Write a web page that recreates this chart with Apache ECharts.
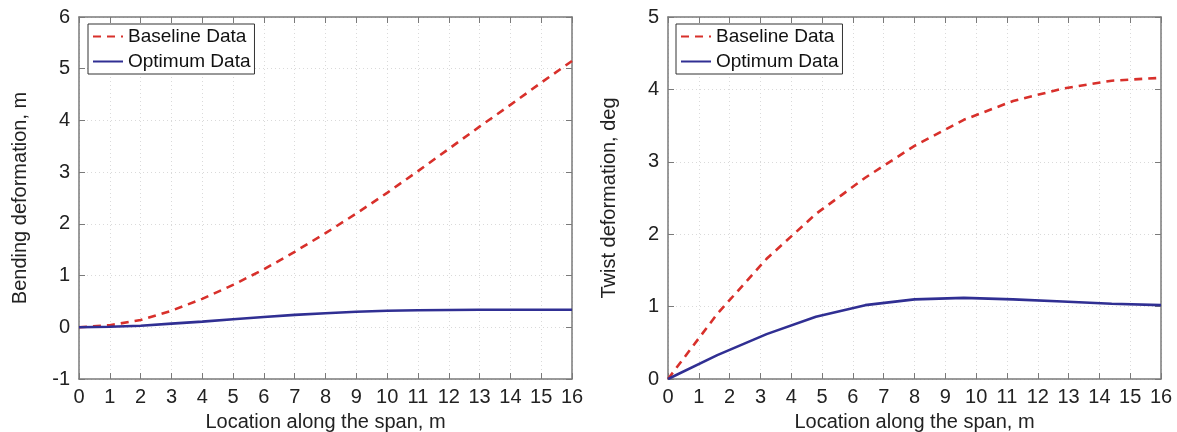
<!DOCTYPE html>
<html>
<head>
    <meta charset="utf-8"/>
    <title>Deformation along the span</title>
    <script src="https://cdn.jsdelivr.net/npm/echarts@6/dist/echarts.min.js"></script>
    <style>
        html, body { margin: 0; padding: 0; background: #fff; }
        #main { width: 1177px; height: 432px; }
    </style>
</head>
<body>
<div id="main"></div>
<script type="text/javascript">
    // bending deformation (left panel)
    var bendX = [0, 1, 2, 3, 4, 5, 6, 7, 8, 9, 10, 11, 12, 13, 14, 15, 16]
    var bendBaseline = [0, 0.04, 0.14, 0.32, 0.55, 0.82, 1.12, 1.46, 1.82, 2.2, 2.6, 3.02, 3.45, 3.88, 4.3, 4.73, 5.15]
    var bendOptimum = [0, 0.01, 0.03, 0.07, 0.11, 0.155, 0.2, 0.24, 0.27, 0.3, 0.32, 0.33, 0.335, 0.34, 0.34, 0.34, 0.34]
    // twist deformation (right panel)
    var twistX = [0, 1.6, 3.2, 4.8, 6.4, 8, 9.6, 11.2, 12.8, 14.4, 16]
    var twistBaseline = [0, 0.9, 1.66, 2.28, 2.78, 3.22, 3.58, 3.84, 4.01, 4.12, 4.16]
    var twistOptimum = [0, 0.33, 0.62, 0.86, 1.02, 1.1, 1.12, 1.1, 1.07, 1.04, 1.02]

    var seriesNames = ['Baseline Data', 'Optimum Data']
    var xName = 'Location along the span, m'
    var yNames = ['Bending deformation, m', 'Twist deformation, deg']

    function pairs(xs, ys) {
        return xs.map(function (x, i) { return [x, ys[i]] })
    }

    var font = 'Liberation Sans, Arial, sans-serif'
    var red = '#d8302b'
    var blue = '#302f93'
    var boxColor = '#7a7a7a'

    function xAxis(grid, pos) {
        var main = pos === 'bottom'
        return {
            type: 'value', gridIndex: grid, position: pos, min: 0, max: 16, interval: 1,
            name: main ? xName : '', nameLocation: 'middle', nameGap: 33,
            nameTextStyle: { fontFamily: font, fontSize: 20, color: '#222' },
            axisLine: { show: true, onZero: false, lineStyle: { color: boxColor, width: 1.5 } },
            axisTick: { show: true, inside: true, length: 6, lineStyle: { color: boxColor } },
            axisLabel: { show: main, fontFamily: font, fontSize: 20, color: '#222', margin: 8 },
            splitLine: { show: main, lineStyle: { color: '#dadada', type: [1, 3], width: 1 } }
        }
    }

    function yAxis(grid, pos, min, max, name) {
        var main = pos === 'left'
        return {
            type: 'value', gridIndex: grid, position: pos, min: min, max: max, interval: 1,
            name: main ? name : '', nameLocation: 'middle', nameGap: 49,
            nameTextStyle: { fontFamily: font, fontSize: 20, color: '#222' },
            axisLine: { show: true, onZero: false, lineStyle: { color: boxColor, width: 1.5 } },
            axisTick: { show: true, inside: true, length: 6, lineStyle: { color: boxColor } },
            axisLabel: { show: main, fontFamily: font, fontSize: 20, color: '#222', margin: 9 },
            splitLine: { show: main, lineStyle: { color: '#dadada', type: [1, 3], width: 1 } }
        }
    }

    function legend(left) {
        return {
            left: left, top: 24, orient: 'vertical', itemGap: 6, itemWidth: 30, itemHeight: 16,
            padding: [3, 4, 3, 4],
            borderColor: '#333', borderWidth: 1, backgroundColor: '#fff',
            itemStyle: { opacity: 0 },
            textStyle: { fontFamily: font, fontSize: 19, color: '#111' },
            data: seriesNames.map(function (n) { return { name: n } }),
            selectedMode: false
        }
    }

    function line(name, data, xi, yi, dashed) {
        return {
            name: name, type: 'line', xAxisIndex: xi, yAxisIndex: yi, data: data,
            symbol: 'none', smooth: false, z: dashed ? 3 : 4,
            lineStyle: { color: dashed ? red : blue, width: 2.6, type: dashed ? [8, 6] : 'solid' },
            itemStyle: { color: dashed ? red : blue }
        }
    }

    var myChart = echarts.init(document.getElementById('main'), null, { renderer: 'canvas' })
    myChart.setOption({
        backgroundColor: '#fff',
        animation: false,
        grid: [
            { left: 79, top: 17, width: 493, height: 362, outerBoundsMode: 'none', containLabel: false },
            { left: 668, top: 17, width: 493, height: 362, outerBoundsMode: 'none', containLabel: false }
        ],
        legend: [legend(88), legend(676)],
        xAxis: [xAxis(0, 'bottom'), xAxis(0, 'top'), xAxis(1, 'bottom'), xAxis(1, 'top')],
        yAxis: [
            yAxis(0, 'left', -1, 6, yNames[0]), yAxis(0, 'right', -1, 6, ''),
            yAxis(1, 'left', 0, 5, yNames[1]), yAxis(1, 'right', 0, 5, '')
        ],
        series: [
            line(seriesNames[0], pairs(bendX, bendBaseline), 0, 0, true),
            line(seriesNames[1], pairs(bendX, bendOptimum), 0, 0, false),
            line(seriesNames[0], pairs(twistX, twistBaseline), 2, 2, true),
            line(seriesNames[1], pairs(twistX, twistOptimum), 2, 2, false)
        ]
    })
</script>
</body>
</html>
